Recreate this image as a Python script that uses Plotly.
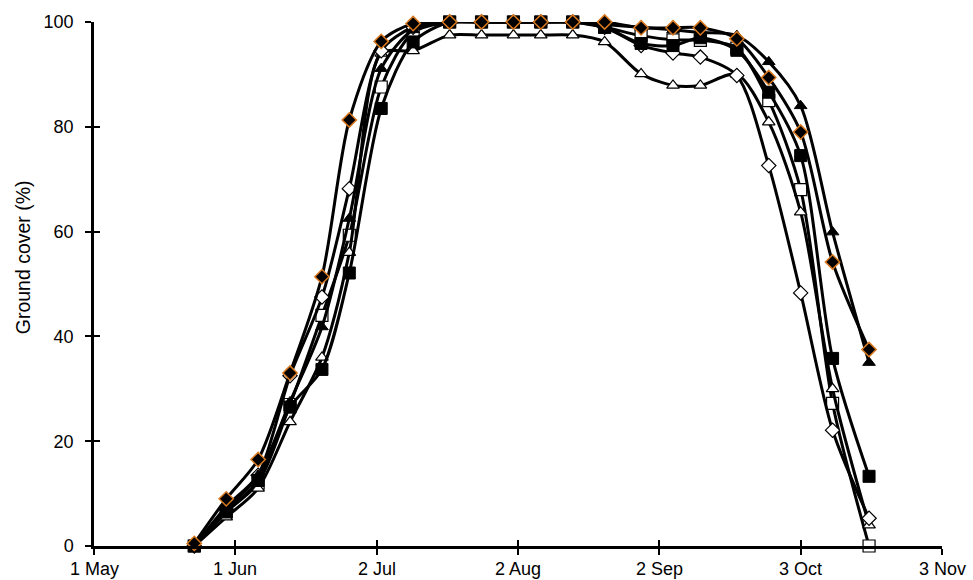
import plotly.graph_objects as go

# ---------------- data ----------------
sampling_dates = ["2000-05-23", "2000-05-30", "2000-06-06", "2000-06-13", "2000-06-20",
                  "2000-06-26", "2000-07-03", "2000-07-10", "2000-07-18", "2000-07-25",
                  "2000-08-01", "2000-08-07", "2000-08-14", "2000-08-21", "2000-08-29",
                  "2000-09-05", "2000-09-11", "2000-09-19", "2000-09-26", "2000-10-03",
                  "2000-10-10", "2000-10-18"]

series_a = [0.5, 9, 16.5, 33, 51.4, 81.3, 96.3, 99.7, 100, 100, 100, 100, 100, 100,
            98.9, 98.9, 98.9, 96.8, 89.4, 79, 54.2, 37.5]          # filled diamond (orange edge)
series_b = [0, 7, 13.5, 32.5, 47.5, 68.2, 94.5, 99, 100, 100, 100, 100, 100, 99,
            95.5, 94.1, 93.3, 89.8, 72.6, 48.3, 22.1, 5.3]          # open diamond
series_c = [0, 7.5, 13.5, 27.5, 41.8, 62.5, 91.1, 98.5, 100, 100, 100, 100, 100, 99.5,
            99, 98.5, 98, 97.4, 92.4, 84, 59.9, 35]                 # filled triangle
series_d = [0, 5.5, 11, 23.7, 36, 56, 94, 94.5, 97.5, 97.5, 97.5, 97.5, 97.5, 96.2,
            90.1, 87.9, 87.9, 90, 80.9, 63.7, 30, 4]                # open triangle
series_e = [0, 6.5, 12.5, 26.5, 33.7, 52.1, 83.5, 96.2, 100, 100, 100, 100, 100, 99,
            95.9, 95.5, 97, 94.6, 86.6, 74.5, 35.8, 13.3]           # filled square
series_f = [0, 6.5, 12, 27, 44, 59.3, 87.6, 98, 100, 100, 100, 100, 100, 99,
            97.4, 96.6, 96.5, 95, 85, 68, 27.2, 0]                  # open square

x_tick_dates = ["2000-05-01", "2000-06-01", "2000-07-02", "2000-08-02",
                "2000-09-02", "2000-10-03", "2000-11-03"]
x_tick_labels = ["1 May", "1 Jun", "2 Jul", "2 Aug", "2 Sep", "3 Oct", "3 Nov"]
y_ticks = [0, 20, 40, 60, 80, 100]
y_title = "Ground cover (%)"

# ---------------- styles ----------------
FONT = "Liberation Sans, Arial, sans-serif"
styles = [
    (series_f, dict(symbol="square", size=12, color="white", line=dict(color="black", width=1.2))),
    (series_d, dict(symbol="triangle-up", size=11, color="white", line=dict(color="black", width=1.2))),
    (series_b, dict(symbol="diamond", size=11, color="white", line=dict(color="black", width=1.2))),
    (series_e, dict(symbol="square", size=12, color="black", line=dict(color="black", width=1))),
    (series_c, dict(symbol="triangle-up", size=11, color="black", line=dict(color="black", width=1))),
    (series_a, dict(symbol="diamond", size=11, color="black", line=dict(color="#d9781e", width=1.5))),
]

fig = go.Figure()
for vals, mk in styles:
    fig.add_trace(go.Scatter(
        x=sampling_dates, y=vals, mode="lines+markers",
        line=dict(color="black", width=3, shape="spline", smoothing=0.8),
        marker=mk, cliponaxis=False, showlegend=False, hoverinfo="skip"))

# dummy trace to activate overlay axes (inside ticks -> cross ticks)
fig.add_trace(go.Scatter(x=[x_tick_dates[0], x_tick_dates[-1]], y=[None, None],
                         xaxis="x2", yaxis="y2", mode="lines", showlegend=False,
                         hoverinfo="skip"))

axis_common = dict(showgrid=False, zeroline=False, linecolor="black", linewidth=2.5,
                   tickcolor="black", tickwidth=2, ticklen=6, automargin=False)

# x tick labels as annotations (placed a bit lower than plotly's default)
annotations = [dict(text=lab, x=d, xref="x", y=0, yref="paper", yshift=-23,
                    xanchor="center", yanchor="middle", showarrow=False,
                    font=dict(family=FONT, size=18, color="black"))
               for d, lab in zip(x_tick_dates, x_tick_labels)]
annotations.append(dict(text=y_title, textangle=-90, xref="paper", yref="paper",
                        x=0, xshift=-71, y=0.551, xanchor="center", yanchor="middle",
                        showarrow=False, font=dict(family=FONT, size=19.5, color="black")))

fig.update_layout(
    width=973, height=580,
    margin=dict(l=94, r=31, t=22, b=34, autoexpand=False),
    paper_bgcolor="white", plot_bgcolor="white",
    font=dict(family=FONT, size=18, color="black"),
    xaxis=dict(type="date", range=[x_tick_dates[0], x_tick_dates[-1]],
               tickmode="array", tickvals=x_tick_dates, showticklabels=False,
               ticks="outside", showline=True, **axis_common),
    yaxis=dict(range=[0, 100], tickmode="array", tickvals=y_ticks,
               ticks="outside", showline=True, ticklabelstandoff=8, **axis_common,
               tickfont=dict(family=FONT, size=18, color="black")),
    xaxis2=dict(type="date", overlaying="x", side="bottom",
                range=[x_tick_dates[0], x_tick_dates[-1]],
                tickmode="array", tickvals=x_tick_dates, ticks="inside",
                showticklabels=False, showline=False, showgrid=False, zeroline=False,
                tickcolor="black", tickwidth=2, ticklen=6, automargin=False),
    yaxis2=dict(overlaying="y", side="left", range=[0, 100], tickmode="array",
                tickvals=y_ticks, ticks="inside", showticklabels=False,
                showline=False, showgrid=False, zeroline=False,
                tickcolor="black", tickwidth=2, ticklen=6, automargin=False),
    annotations=annotations,
)

fig.write_html("out.html")
